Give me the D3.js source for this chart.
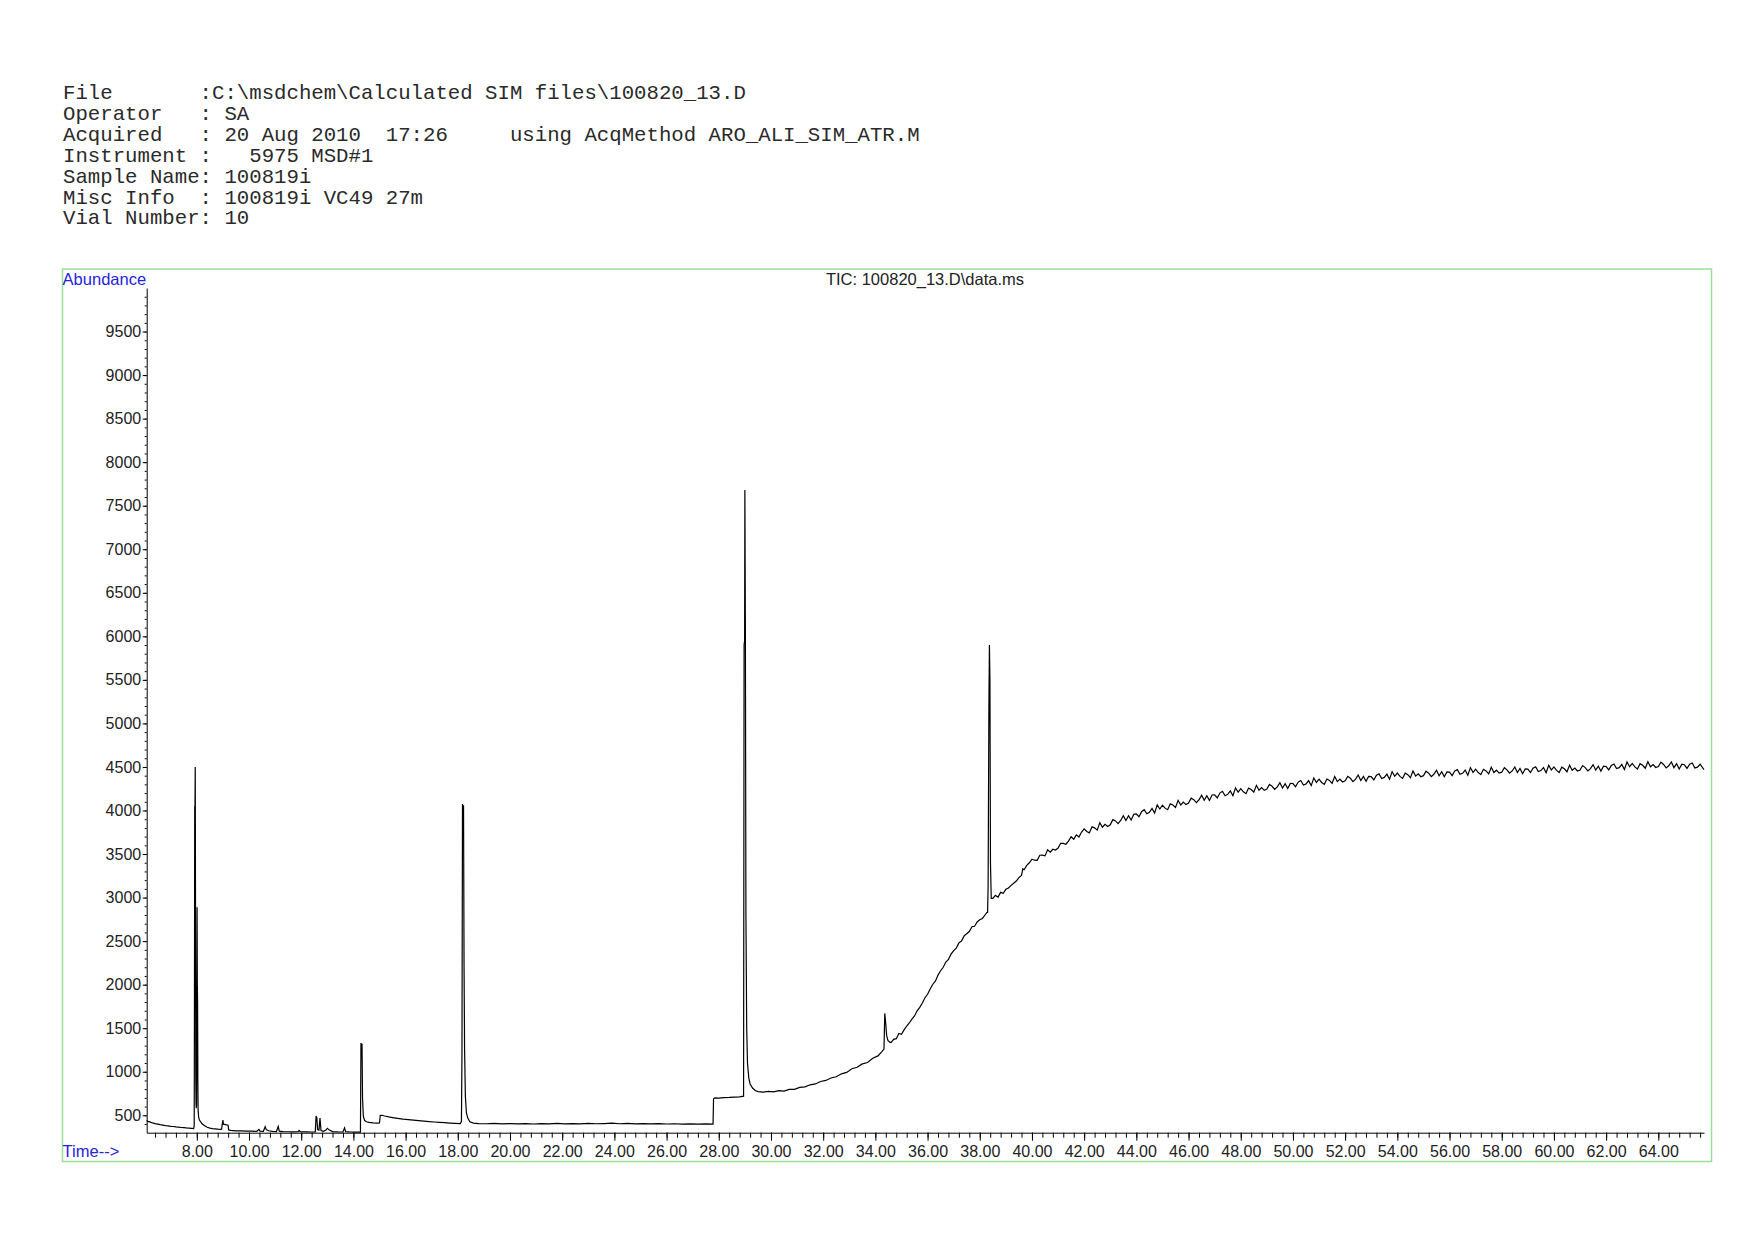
<!DOCTYPE html>
<html>
<head>
<meta charset="utf-8">
<script src="https://cdn.jsdelivr.net/npm/d3@7"></script>
<style>
  body { margin: 0; background: #fff; }
</style>
</head>
<body>
<script>
// header block of the report
const headerLines = [
  "File       :C:\\msdchem\\Calculated SIM files\\100820_13.D",
  "Operator   : SA",
  "Acquired   : 20 Aug 2010  17:26     using AcqMethod ARO_ALI_SIM_ATR.M",
  "Instrument :   5975 MSD#1",
  "Sample Name: 100819i",
  "Misc Info  : 100819i VC49 27m",
  "Vial Number: 10"
];
const chartTitle = "TIC: 100820_13.D\\data.ms";

const xTicks = [8, 10, 12, 14, 16, 18, 20, 22, 24, 26, 28, 30, 32, 34, 36, 38, 40,
  42, 44, 46, 48, 50, 52, 54, 56, 58, 60, 62, 64];
const yTicks = [500, 1000, 1500, 2000, 2500, 3000, 3500, 4000, 4500, 5000,
  5500, 6000, 6500, 7000, 7500, 8000, 8500, 9000, 9500];

// [time (min), abundance]
const segEarly = [
  [6.08,440],[6.12,430],[6.2,424],[6.3,412],[6.4,404],[6.5,399],[6.6,392],[6.7,387],[6.8,381],[6.9,378],
  [7.0,373],[7.1,371],[7.2,366],[7.3,364],[7.4,360],[7.5,358],[7.6,355],[7.7,353],[7.8,350],[7.88,348],
  [7.9,380],[7.91,1800],[7.92,4050],[7.93,4040],[7.94,4500],[7.95,3000],[7.96,950],[7.97,640],[7.98,580],
  [7.99,620],[8.0,1800],[8.01,2890],[8.02,2000],[8.03,1800],[8.04,900],[8.05,560],[8.07,480],[8.1,445],
  [8.2,402],[8.3,380],[8.4,362],[8.5,352],[8.6,346],[8.7,343],[8.8,340],[8.9,338],[8.95,340],
  [8.97,390],[9.0,445],[9.02,398],[9.1,392],[9.2,386],[9.22,332],[9.3,326],[9.5,322],[9.7,320],[9.9,318],
  [10.1,317],[10.3,316],[10.38,338],[10.42,318],[10.55,316],[10.62,368],[10.66,335],[10.75,322],[10.9,316],
  [11.05,313],[11.12,372],[11.16,318],[11.3,313],[11.5,311],[11.7,310],[11.88,312],[11.92,326],[11.96,311],
  [12.2,309],[12.4,308],[12.54,310],[12.57,492],[12.6,470],[12.63,335],[12.68,330],[12.72,468],[12.76,325],
  [12.85,315],[12.95,330],[13.0,350],[13.08,330],[13.2,312],[13.4,309],[13.6,308],[13.66,355],[13.7,312],
  [13.9,308],[14.1,306],[14.27,306]
];

const segMiddle = [
  [14.29,1330],[14.31,1300],[14.33,1320],[14.35,700],[14.38,490],[14.43,440],[14.5,425],[14.6,418],
  [14.75,412],[14.9,410],[15.0,412],[15.03,500],[15.1,500],[15.2,492],[15.35,482],[15.5,474],[15.7,464],
  [15.9,456],[16.1,450],[16.3,444],[16.5,438],[16.7,433],[16.9,428],[17.1,423],[17.3,419],[17.5,415],
  [17.7,411],[17.9,408],[18.1,405],[18.14,430],[18.16,1200],[18.18,4075],[18.2,4020],[18.22,4060],
  [18.24,2200],[18.26,1260],[18.29,720],[18.33,530],[18.38,470],[18.46,425],[18.6,410],[18.8,405],
  [19.1,403],[19.4,406],[19.7,402],[20.0,405],[20.3,401],[20.6,404],[20.9,400],[21.2,405],[21.5,402],
  [21.8,406],[22.1,401],[22.4,404],[22.7,402],[23.0,407],[23.3,403],[23.6,405],[23.9,409],[24.2,403],
  [24.5,406],[24.8,402],[25.1,405],[25.4,401],[25.7,404],[26.0,400],[26.3,403],[26.6,399],[26.9,402],
  [27.2,398],[27.5,401],[27.78,399]
];

const segLate = [
  [27.8,690],[27.85,700],[28.0,698],[28.2,703],[28.4,705],[28.6,709],[28.8,712],[28.95,720],
  [28.97,5900],[28.99,5950],[29.0,7680],[29.02,6000],[29.04,2800],[29.07,1500],[29.1,1100],[29.15,930],
  [29.2,860],[29.3,810],[29.4,785],[29.5,772],[29.7,765],[29.9,775],[30.1,770],[30.3,784],[30.5,778],
  [30.7,797],[30.9,798],[31.1,820],[31.3,826],[31.5,850],[31.7,860],[31.9,888],[32.1,900],[32.3,928],
  [32.5,942],[32.7,976],[32.9,992],[33.1,1034],[33.3,1052],[33.5,1090],[33.7,1106],[33.9,1155],
  [34.1,1182],[34.25,1232],[34.33,1260],[34.36,1670],[34.39,1580],[34.43,1420],[34.48,1360],[34.55,1340],
  [34.6,1335],[34.7,1372],[34.8,1380],[34.9,1440],[35.0,1430],[35.1,1480],[35.2,1525],[35.3,1560],
  [35.4,1605],[35.5,1640],[35.6,1700],[35.7,1740],[35.8,1790],[35.9,1850],[36.0,1890],[36.1,1950],
  [36.2,2005],[36.3,2040],[36.4,2110],[36.5,2160],[36.6,2200],[36.7,2260],[36.8,2290],[36.9,2350],
  [37.0,2390],[37.1,2420],[37.2,2480],[37.3,2500],[37.4,2560],[37.5,2585],[37.6,2610],[37.7,2665],
  [37.8,2670],[37.9,2720],[38.0,2745],[38.1,2760],[38.2,2800],[38.28,2830],
  [38.3,2830],[38.32,3130],[38.35,5200],[38.37,5900],[38.39,5500],[38.41,3400],[38.44,2990],
  [38.5,2990],[38.6,3025],[38.7,3005],[38.8,3060],[38.9,3050],[39.0,3095],[39.1,3110],[39.2,3140],
  [39.3,3165],[39.4,3190],[39.5,3230],[39.6,3255],[39.65,3330],[39.7,3320],[39.8,3370],[39.9,3400]
];

const segPlateau = [
  [40.0,3441],[40.1,3429],[40.2,3427],[40.3,3486],[40.4,3488],[40.5,3479],[40.6,3548],[40.7,3521],[40.8,3555],[40.9,3546],
  [41.0,3569],[41.1,3623],[41.2,3623],[41.3,3613],[41.4,3648],[41.5,3698],[41.6,3670],[41.7,3720],[41.8,3696],[41.9,3753],
  [42.0,3790],[42.1,3759],[42.2,3743],[42.3,3812],[42.4,3801],[42.5,3775],[42.6,3859],[42.7,3808],[42.8,3842],[42.9,3816],
  [43.0,3835],[43.1,3895],[43.2,3880],[43.3,3850],[43.4,3885],[43.5,3940],[43.6,3885],[43.7,3940],[43.8,3890],[43.9,3955],
  [44.0,3960],[44.1,3928],[44.2,3986],[44.3,4009],[44.4,3962],[44.5,3980],[44.6,4023],[44.7,3971],[44.8,4064],[44.9,4017],
  [45.0,4060],[45.1,4027],[45.2,4009],[45.3,4076],[45.4,4063],[45.5,4035],[45.6,4117],[45.7,4064],[45.8,4096],[45.9,4068],
  [46.0,4085],[46.1,4142],[46.2,4124],[46.3,4091],[46.4,4123],[46.5,4175],[46.6,4117],[46.7,4169],[46.8,4116],[46.9,4178],
  [47.0,4180],[47.1,4145],[47.2,4200],[47.3,4220],[47.4,4170],[47.5,4185],[47.6,4225],[47.7,4170],[47.8,4260],[47.9,4210],
  [48.0,4250],[48.1,4214],[48.2,4193],[48.3,4257],[48.4,4241],[48.5,4210],[48.6,4289],[48.7,4233],[48.8,4262],[48.9,4231],
  [49.0,4245],[49.1,4299],[49.2,4278],[49.3,4242],[49.4,4271],[49.5,4320],[49.6,4259],[49.7,4308],[49.8,4252],[49.9,4311],
  [50.0,4310],[50.1,4273],[50.2,4326],[50.3,4344],[50.4,4292],[50.5,4305],[50.6,4343],[50.7,4286],[50.8,4374],[50.9,4322],
  [51.0,4360],[51.1,4322],[51.2,4300],[51.3,4362],[51.4,4345],[51.5,4312],[51.6,4390],[51.7,4332],[51.8,4360],[51.9,4327],
  [52.0,4340],[52.1,4392],[52.2,4370],[52.3,4332],[52.4,4360],[52.5,4407],[52.6,4345],[52.7,4392],[52.8,4335],[52.9,4392],
  [53.0,4390],[53.1,4352],[53.2,4404],[53.3,4421],[53.4,4368],[53.5,4380],[53.6,4417],[53.7,4359],[53.8,4446],[53.9,4393],
  [54.0,4430],[54.1,4391],[54.2,4368],[54.3,4429],[54.4,4411],[54.5,4377],[54.6,4454],[54.7,4395],[54.8,4422],[54.9,4388],
  [55.0,4400],[55.1,4451],[55.2,4428],[55.3,4389],[55.4,4416],[55.5,4462],[55.6,4399],[55.7,4445],[55.8,4387],[55.9,4443],
  [56.0,4440],[56.1,4401],[56.2,4453],[56.3,4469],[56.4,4416],[56.5,4427],[56.6,4464],[56.7,4405],[56.8,4492],[56.9,4438],
  [57.0,4475],[57.1,4436],[57.2,4412],[57.3,4473],[57.4,4454],[57.5,4420],[57.6,4496],[57.7,4437],[57.8,4463],[57.9,4429],
  [58.0,4440],[58.1,4491],[58.2,4467],[58.3,4428],[58.4,4454],[58.5,4500],[58.6,4436],[58.7,4482],[58.8,4423],[58.9,4479],
  [59.0,4475],[59.1,4436],[59.2,4486],[59.3,4502],[59.4,4447],[59.5,4458],[59.6,4493],[59.7,4434],[59.8,4519],[59.9,4465],
  [60.0,4500],[60.1,4461],[60.2,4437],[60.3,4498],[60.4,4479],[60.5,4445],[60.6,4521],[60.7,4462],[60.8,4488],[60.9,4454],
  [61.0,4465],[61.1,4516],[61.2,4493],[61.3,4454],[61.4,4481],[61.5,4527],[61.6,4464],[61.7,4510],[61.8,4452],[61.9,4508],
  [62.0,4505],[62.1,4466],[62.2,4518],[62.3,4534],[62.4,4481],[62.5,4492],[62.6,4529],[62.7,4470],[62.8,4557],[62.9,4503],
  [63.0,4540],[63.1,4501],[63.2,4477],[63.3,4538],[63.4,4519],[63.5,4485],[63.6,4561],[63.7,4502],[63.8,4528],[63.9,4494],
  [64.0,4505],[64.1,4555],[64.2,4529],[64.3,4489],[64.4,4513],[64.5,4558],[64.6,4492],[64.7,4537],[64.8,4476],[64.9,4531],
  [65.0,4525],[65.1,4484],[65.2,4532],[65.3,4546],[65.4,4489],[65.5,4498],[65.6,4531],[65.75,4470]
];

const trace = [].concat(segEarly, segMiddle, segLate, segPlateau);

const svg = d3.select('body')
  .append('svg')
  .attr('width', 1754)
  .attr('height', 1240);

// report header
svg.append('g')
  .selectAll('text')
  .data(headerLines)
  .join('text')
  .attr('x', 63)
  .attr('y', (d, i) => 99 + i * 20.9)
  .attr('font-family', '"Liberation Mono", "Courier New", monospace')
  .attr('font-size', 20.7)
  .attr('fill', '#2a2a2a')
  .attr('xml:space', 'preserve')
  .style('white-space', 'pre')
  .text((d) => d)

// green frame around the plot
svg.append('rect')
  .attr('x', 62.5)
  .attr('y', 269)
  .attr('width', 1649)
  .attr('height', 892.5)
  .attr('fill', 'none')
  .attr('stroke', '#9adf9a')
  .attr('stroke-width', 1.5)

const xscale = d3.scaleLinear()
  .domain([6.08, 65.75])
  .range([146.7, 1704])

const yscale = d3.scaleLinear()
  .domain([300, 10000])
  .range([1132.7, 288])

const axisFont = '"Liberation Sans", Arial, sans-serif';

// x axis: minor ticks then major ticks with labels
const xMinor = d3.axisBottom(xscale)
  .tickValues(d3.range(6.4, 65.7, 0.4))
  .tickSize(5)
  .tickSizeOuter(0)
  .tickFormat('')
svg.append('g')
  .attr('transform', 'translate(0, 1132.7)')
  .call(xMinor)

const xMajor = d3.axisBottom(xscale)
  .tickValues(xTicks)
  .tickSize(8)
  .tickSizeOuter(0)
  .tickPadding(5)
  .tickFormat(d3.format('.2f'))
const xg = svg.append('g')
  .attr('transform', 'translate(0, 1132.7)')
  .call(xMajor)
xg.selectAll('text')
  .attr('font-family', axisFont)
  .attr('font-size', 16)
  .attr('fill', '#222')
xg.select('.domain').remove()

// y axis
const yMinor = d3.axisLeft(yscale)
  .tickValues(d3.range(400, 10000, 100))
  .tickSize(2)
  .tickSizeOuter(0)
  .tickFormat('')
svg.append('g')
  .attr('transform', 'translate(146.7, 0)')
  .call(yMinor)

const yMajor = d3.axisLeft(yscale)
  .tickValues(yTicks)
  .tickSize(4)
  .tickSizeOuter(0)
  .tickPadding(1.5)
  .tickFormat(d3.format('d'))
const yg = svg.append('g')
  .attr('transform', 'translate(146.7, 0)')
  .call(yMajor)
yg.selectAll('text')
  .attr('font-family', axisFont)
  .attr('font-size', 16)
  .attr('fill', '#222')
yg.select('.domain').remove()

// labels
svg.append('text')
  .text('Abundance')
  .attr('x', 62.6)
  .attr('y', 284.5)
  .attr('font-family', axisFont)
  .attr('font-size', 16.5)
  .attr('fill', '#2424dd')

svg.append('text')
  .text('Time-->')
  .attr('x', 62.6)
  .attr('y', 1157)
  .attr('font-family', axisFont)
  .attr('font-size', 16.5)
  .attr('fill', '#2424dd')

svg.append('text')
  .text(chartTitle)
  .attr('x', 925)
  .attr('y', 285)
  .attr('text-anchor', 'middle')
  .attr('font-family', axisFont)
  .attr('font-size', 16.5)
  .attr('fill', '#222')

// chromatogram trace
const line = d3.line()
  .x((d) => xscale(d[0]))
  .y((d) => yscale(d[1]))

svg.append('path')
  .datum(trace)
  .attr('d', line)
  .attr('fill', 'none')
  .attr('stroke', '#000')
  .attr('stroke-width', 1.2)
  .attr('stroke-linejoin', 'miter')
</script>
</body>
</html>
